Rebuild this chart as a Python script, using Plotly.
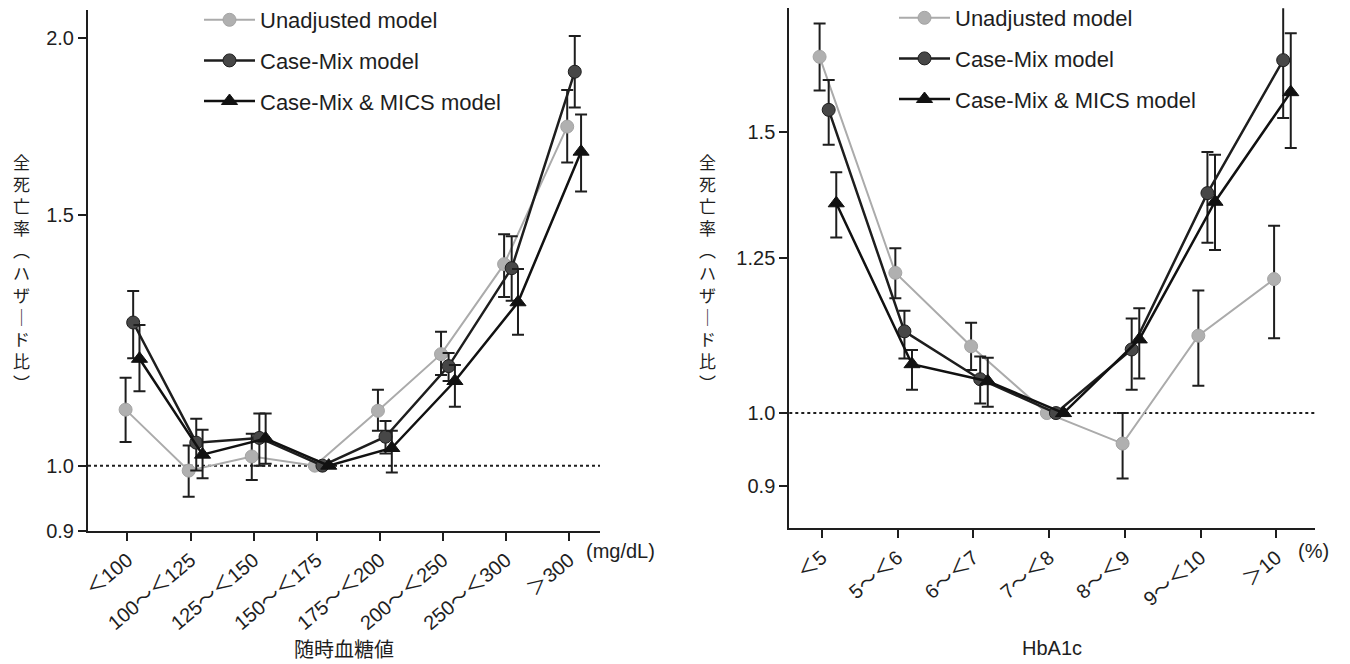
import math
import plotly.graph_objects as go

# ---------------- data ----------------
glu_cats = ["＜100", "100～＜125", "125～＜150", "150～＜175",
            "175～＜200", "200～＜250", "250～＜300", "＞300"]
glu_unadj = [1.095, 0.992, 1.015, 1.000, 1.093, 1.198, 1.386, 1.732]
glu_unadj_hi = [1.153, 1.033, 1.053, None, 1.131, 1.242, 1.455, 1.838]
glu_unadj_lo = [1.039, 0.951, 0.977, None, 1.058, 1.158, 1.314, 1.634]
glu_cm = [1.261, 1.038, 1.046, 1.000, 1.048, 1.175, 1.377, 1.893]
glu_cm_hi = [1.327, 1.079, 1.088, None, 1.075, 1.200, 1.450, 2.006]
glu_cm_lo = [1.190, 0.992, 1.000, None, 1.020, 1.147, 1.306, 1.786]
glu_mics = [1.189, 1.018, 1.045, 1.000, 1.029, 1.147, 1.303, 1.663]
glu_mics_hi = [1.256, 1.060, 1.088, None, 1.058, 1.177, 1.375, 1.766]
glu_mics_lo = [1.128, 0.980, 1.003, None, 0.989, 1.100, 1.236, 1.559]

hba_cats = ["＜5", "5～＜6", "6～＜7", "7～＜8", "8～＜9", "9～＜10", "＞10"]
hba_unadj = [1.671, 1.224, 1.101, 1.000, 0.957, 1.118, 1.213]
hba_unadj_hi = [1.753, 1.268, 1.139, None, 1.000, 1.193, 1.310]
hba_unadj_lo = [1.592, 1.180, 1.064, None, 0.910, 1.040, 1.114]
hba_cm = [1.548, 1.125, 1.050, 1.000, 1.096, 1.373, 1.663]
hba_cm_hi = [1.616, 1.159, 1.085, None, 1.146, 1.457, 1.800]
hba_cm_lo = [1.472, 1.082, 1.014, None, 1.034, 1.278, 1.530]
hba_mics = [1.353, 1.073, 1.047, 1.000, 1.112, 1.356, 1.588]
hba_mics_hi = [1.415, 1.095, 1.083, None, 1.163, 1.451, 1.729]
hba_mics_lo = [1.288, 1.034, 1.009, None, 1.051, 1.265, 1.465]

series_names = ["Unadjusted model", "Case-Mix model", "Case-Mix & MICS model"]
y_ticks_left = [0.9, 1.0, 1.5, 2.0]
y_ticks_left_text = ["0.9", "1.0", "1.5", "2.0"]
y_ticks_right = [0.9, 1.0, 1.25, 1.5]
y_ticks_right_text = ["0.9", "1.0", "1.25", "1.5"]
y_title_chars = ["全", "死", "亡", "率", "︵", "ハ", "ザ", "｜", "ド", "比", "︶"]

# ---------------- styling ----------------
W, H = 1350, 664
FONT = "Liberation Sans, Arial, Noto Sans CJK JP, sans-serif"
CJK = "Noto Sans CJK JP, sans-serif"
INK = "#1e1e1e"

styles = [
    dict(offset=-0.03, line=dict(color="#ababab", width=2),
         marker=dict(symbol="circle", size=13, color="#b0b0b0",
                     line=dict(color="#a4a4a4", width=1))),
    dict(offset=0.09, line=dict(color="#1e1e1e", width=2.5),
         marker=dict(symbol="circle", size=13, color="#474747",
                     line=dict(color="#1e1e1e", width=1))),
    dict(offset=0.19, line=dict(color="#111111", width=2.5),
         marker=dict(symbol="triangle-up", size=14, color="#111111",
                     line=dict(color="#111111", width=1))),
]

fig = go.Figure()


def add_panel(vals_list, xa, ya, legend_name):
    for k, (vals, hi, lo) in enumerate(vals_list):
        st = styles[k]
        xs = [i + st["offset"] for i in range(len(vals))]
        ex, ey, eu, ed = [], [], [], []
        for i, v in enumerate(vals):
            if hi[i] is not None:
                ex.append(xs[i]); ey.append(v)
                eu.append(hi[i] - v); ed.append(v - lo[i])
        fig.add_trace(go.Scatter(
            x=ex, y=ey, mode="markers", xaxis=xa, yaxis=ya,
            marker=dict(size=1, opacity=0), showlegend=False, hoverinfo="skip",
            error_y=dict(type="data", symmetric=False, array=eu, arrayminus=ed,
                         color=INK, thickness=2, width=6)))
        fig.add_trace(go.Scatter(
            x=xs, y=vals, mode="lines+markers", xaxis=xa, yaxis=ya,
            name=series_names[k], legend=legend_name, legendgroup=f"{legend_name}{k}",
            line=st["line"], marker=st["marker"]))


add_panel([(glu_unadj, glu_unadj_hi, glu_unadj_lo),
           (glu_cm, glu_cm_hi, glu_cm_lo),
           (glu_mics, glu_mics_hi, glu_mics_lo)], "x", "y", "legend")
add_panel([(hba_unadj, hba_unadj_hi, hba_unadj_lo),
           (hba_cm, hba_cm_hi, hba_cm_lo),
           (hba_mics, hba_mics_hi, hba_mics_lo)], "x2", "y2", "legend2")

axis_common = dict(showline=True, linewidth=2, linecolor=INK, ticks="outside",
                   ticklen=8, tickwidth=2, tickcolor=INK, showgrid=False,
                   zeroline=False, fixedrange=True, automargin=False)

fig.update_layout(
    width=W, height=H, margin=dict(l=0, r=0, t=0, b=0, autoexpand=False),
    paper_bgcolor="white", plot_bgcolor="white",
    xaxis=dict(domain=[88 / W, 600 / W], range=[-0.626, 7.49], anchor="y",
               tickmode="array", tickvals=list(range(len(glu_cats))), ticktext=glu_cats,
               tickangle=-40, tickfont=dict(family=FONT, size=20, color=INK), **axis_common),
    yaxis=dict(domain=[1 - 530.7 / H, 1 - 10 / H], type="log", anchor="x",
               range=[math.log10(0.9), math.log10(2.092)],
               tickmode="array", tickvals=y_ticks_left, ticktext=y_ticks_left_text,
               tickfont=dict(family=FONT, size=20, color=INK), **axis_common),
    xaxis2=dict(domain=[789.3 / W, 1315 / W], range=[-0.43, 6.51], anchor="y2",
                tickmode="array", tickvals=list(range(len(hba_cats))), ticktext=hba_cats,
                tickangle=-40, tickfont=dict(family=FONT, size=20, color=INK), **axis_common),
    yaxis2=dict(domain=[1 - 528.3 / H, 1 - 8.3 / H], type="log", anchor="x2",
                range=[math.log10(0.847), math.log10(1.792)],
                tickmode="array", tickvals=y_ticks_right, ticktext=y_ticks_right_text,
                tickfont=dict(family=FONT, size=20, color=INK), **axis_common),
    legend=dict(x=199 / W, y=1 + 1 / H, xanchor="left", yanchor="top",
                bgcolor="rgba(0,0,0,0)", tracegroupgap=9, itemwidth=51,
                font=dict(family=FONT, size=22, color=INK)),
    legend2=dict(x=894 / W, y=1 + 3 / H, xanchor="left", yanchor="top",
                 bgcolor="rgba(0,0,0,0)", tracegroupgap=9, itemwidth=51,
                 font=dict(family=FONT, size=22, color=INK)),
    showlegend=True,
)

# reference lines at HR = 1.0
for xr, yr in (("x domain", "y"), ("x2 domain", "y2")):
    fig.add_shape(type="line", xref=xr, yref=yr, x0=0, x1=1, y0=1.0, y1=1.0,
                  line=dict(color=INK, width=2, dash="dot"), layer="below")

# axis titles and unit labels
ann = [
    dict(text="随時血糖値", x=344 / W, y=1 - 648 / H, font=dict(family=CJK, size=20, color=INK)),
    dict(text="HbA1c", x=1052 / W, y=1 - 648 / H, font=dict(family=FONT, size=20, color=INK)),
    dict(text="(mg/dL)", x=584 / W, y=1 - 551 / H, xanchor="left",
         font=dict(family=FONT, size=20, color=INK)),
    dict(text="(%)", x=1296 / W, y=1 - 551 / H, xanchor="left",
         font=dict(family=FONT, size=20, color=INK)),
]
for a in ann:
    a.setdefault("xanchor", "center")
    fig.add_annotation(xref="paper", yref="paper", showarrow=False, yanchor="middle", **a)

# vertical (tategaki) y-axis titles
vtitle = "<br>".join(y_title_chars)
for x_px in (21, 707):
    fig.add_annotation(xref="paper", yref="paper", x=x_px / W, y=1 - 272 / H,
                       text=vtitle, showarrow=False, xanchor="center", yanchor="middle",
                       align="center", font=dict(family=CJK, size=17, color=INK))

fig.write_html("out.html", config={"displayModeBar": False},
               post_script="document.body.style.margin='0px';"
               "document.body.style.overflow='hidden';")
